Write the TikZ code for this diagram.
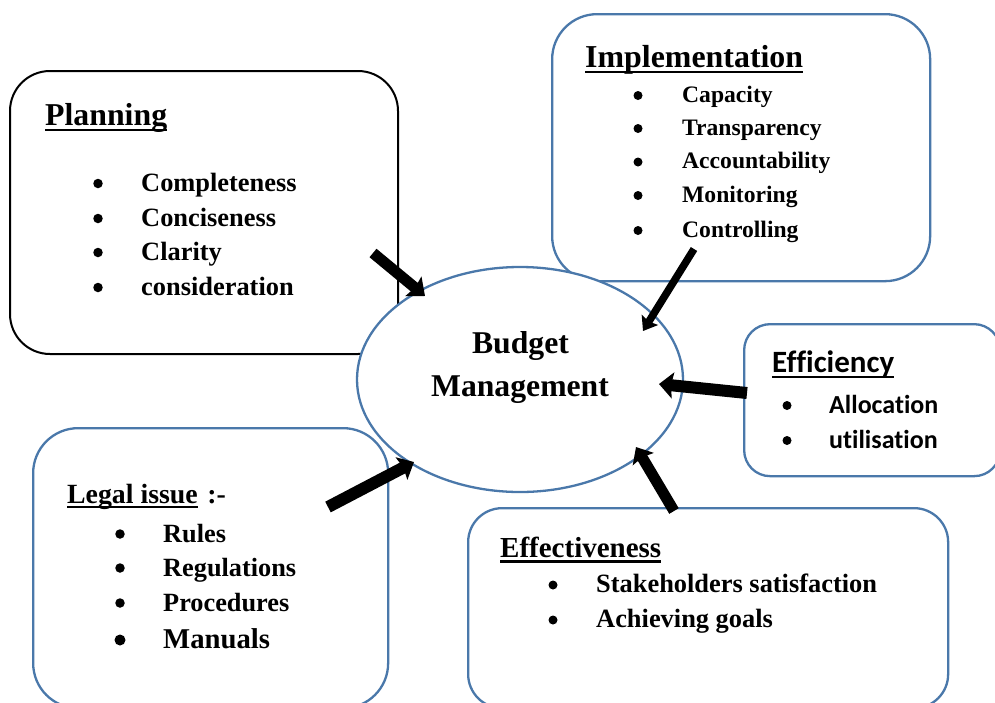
\documentclass[tikz,border=0pt]{standalone}
\usepackage{fontspec}
\setmainfont{Liberation Serif}
\newfontfamily\sansbold[Ligatures={NoCommon}]{Carlito}
\usetikzlibrary{arrows.meta}
\definecolor{edgeblue}{HTML}{4A78AA}

% underline set a little below the baseline, as in a word processor
\newsavebox\ulbox
\newcommand\ulword[1]{\sbox\ulbox{#1}\rlap{\rule[-0.19em]{\wd\ulbox}{0.075em}}\usebox\ulbox}
\newcommand\fs[1]{\fontsize{#1}{#1}\selectfont\bfseries}

\begin{document}
\begin{tikzpicture}[x=1pt,y=-1pt,
  card/.style={draw=edgeblue, line width=2.3pt, fill=white, rounded corners=#1,
    rectangle, inner sep=0pt, anchor=north west},
  title/.style={anchor=base west, inner sep=0pt},
  item/.style={anchor=base west, inner sep=0pt},
  dot/.style={circle, fill=black, inner sep=0pt, minimum size=#1},
  dot/.default=9pt,
  center/.style={anchor=base, inner sep=0pt},
  fat/.style={line width=#1, line cap=butt},
]
\useasboundingbox (0,0) rectangle (995,702);
\begin{scope}
\clip (0,0) rectangle (995,702);

% ---- boxes ----
\node[card=40pt, draw=black, line width=2pt, minimum width=388pt, minimum height=283pt] (planbox) at (9,70) {};
\node[card=45pt, minimum width=378pt, minimum height=267pt] (implbox) at (551,13) {};
\node[card=45pt, minimum width=355pt, minimum height=280pt] (legalbox) at (32,427) {};
\node[card=26pt, minimum width=256pt, minimum height=152pt] (effibox) at (743,323) {};
\node[card=34pt, minimum width=480pt, minimum height=200pt] (effebox) at (467,507) {};

% ---- central ellipse ----
\draw[edgeblue, line width=2.3pt, fill=white] (520,379.5) ellipse [x radius=163, y radius=112.5];
\node[inner sep=0pt] (bm) at (520,379.5) {};
\node[center, font=\fs{31.7}] (bm1) at (520.5,353) {Budget};
\node[center, font=\fs{31.7}] (bm2) at (520,396) {Management};

% ---- Planning ----
\node[title, font=\fs{31.8}] (plt) at (45,125) {\ulword{Planning}};
\foreach \t/\y [count=\i] in {Completeness/191, Conciseness/226, Clarity/260, consideration/295}{
  \node[dot=9.5pt] (pld\i) at (98,\y-7.5) {};
  \node[item, font=\fs{26.4}] (pli\i) at (141,\y) {\t};
}

% ---- Implementation ----
\node[title, font=\fs{31.9}] (imt) at (585,67) {\ulword{Implementation}};
\foreach \t/\y [count=\i] in {Capacity/102, Transparency/135, Accountability/168.5, Monitoring/202, Controlling/237}{
  \node[dot] (imd\i) at (638,\y-6.5) {};
  \node[item, font=\fs{23.6}] (imi\i) at (682,\y) {\t};
}

% ---- Efficiency ----
\node[title, font=\sansbold\fs{31}] (eft) at (772,372) {\ulword{Efficiency}};
\foreach \t/\y [count=\i] in {Allocation/413, utilisation/448}{
  \node[dot] (efd\i) at (787,\y-7.5) {};
  \node[item, font=\sansbold\fs{26}] (efi\i) at (829,\y) {\t};
}

% ---- Legal issue ----
\node[title, font=\fs{27.8}] (lgt) at (67,503) {\ulword{Legal issue}\hspace{0.35em}:-};
\foreach \t/\y/\s/\d [count=\i] in {Rules/542/26.3/9.5, Regulations/576/26.3/9.5, Procedures/611/26.3/9.5, Manuals/648/28.7/11}{
  \node[dot=\d pt] (lgd\i) at (120,\y-8) {};
  \node[item, font=\fs{\s}] (lgi\i) at (163,\y) {\t};
}

% ---- Effectiveness ----
\node[title, font=\fs{29}] (ect) at (500,557) {\ulword{Effectiveness}};
\foreach \t/\y [count=\i] in {Stakeholders satisfaction/592, Achieving goals/627}{
  \node[dot] (ecd\i) at (553,\y-7) {};
  \node[item, font=\fs{26.4}] (eci\i) at (596,\y) {\t};
}

% ---- arrows into the ellipse ----
\coordinate (plTail) at (373,253);  \coordinate (plTip) at (425,296);
\coordinate (imTail) at (694,249);  \coordinate (imTip) at (643,331);
\coordinate (efTail) at (747,393);  \coordinate (efTip) at (659,384);
\coordinate (ecTail) at (674,511);  \coordinate (ecTip) at (636,447);
\coordinate (lgTail) at (328,507);  \coordinate (lgTip) at (414,462);

\draw[fat=11pt, -{Stealth[length=15pt, width=25pt, inset=2pt]}] (plTail) -- (plTip);
\draw[fat=7.5pt, -{Stealth[length=13pt, width=19pt, inset=2pt]}] (imTail) -- (imTip);
\draw[fat=12pt, -{Stealth[length=14pt, width=26pt, inset=2pt]}] (efTail) -- (efTip);
\draw[fat=11pt, -{Stealth[length=14pt, width=24pt, inset=2pt]}] (ecTail) -- (ecTip);
\draw[fat=12pt, -{Stealth[length=14pt, width=25pt, inset=2pt]}] (lgTail) -- (lgTip);
\end{scope}
\end{tikzpicture}
\end{document}
